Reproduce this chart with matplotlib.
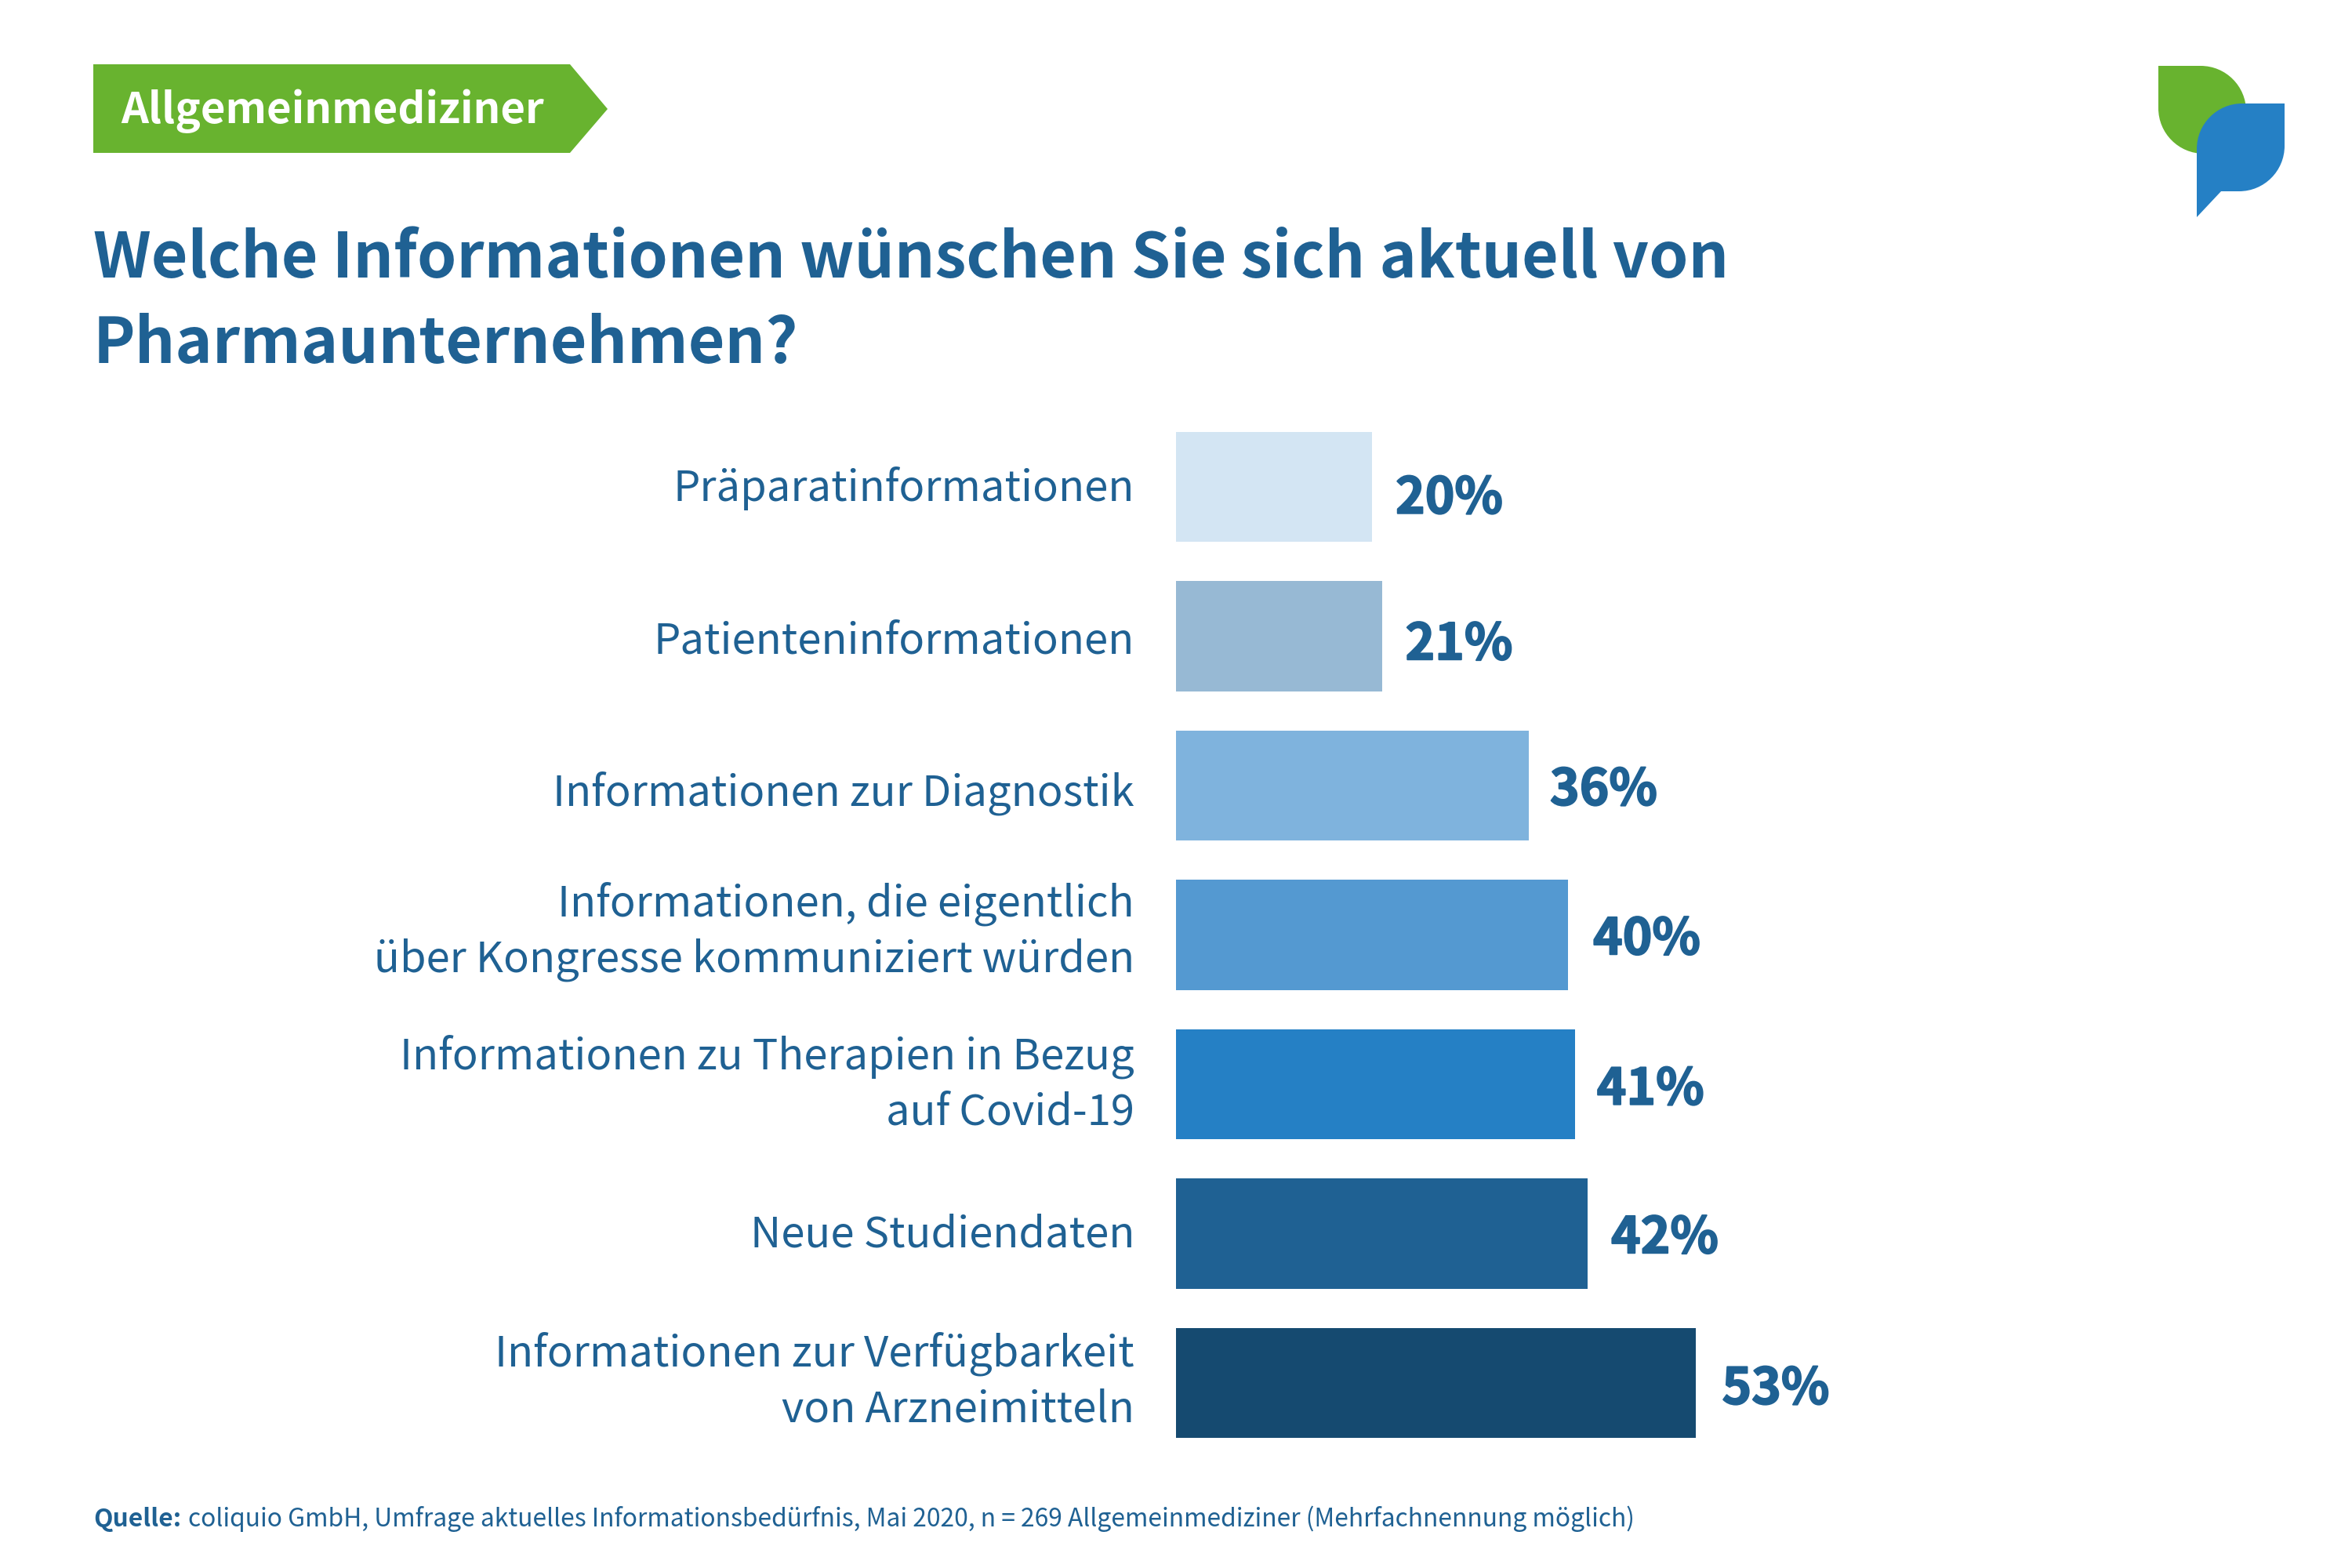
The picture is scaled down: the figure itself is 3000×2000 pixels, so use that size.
import matplotlib
matplotlib.use('Agg')
import matplotlib.pyplot as plt
import matplotlib.patheffects as pe
from matplotlib.patches import PathPatch, Polygon
from matplotlib.path import Path

plt.rcParams['font.family'] = ['Noto Sans CJK SC', 'DejaVu Sans']

# Data
categories = ['Präparatinformationen', 'Patienteninformationen', 'Informationen zur Diagnostik',
              'Informationen, die eigentlich\nüber Kongresse kommuniziert würden',
              'Informationen zu Therapien in Bezug\nauf Covid-19', 'Neue Studiendaten',
              'Informationen zur Verfügbarkeit\nvon Arzneimitteln']
values = [20, 21, 36, 40, 40.7, 42, 53]
bar_colors = ['#d3e5f3', '#97b9d4', '#7fb3dd', '#5499d1', '#2580c5', '#1f6193', '#154a70']

# small hand offsets (pixels) so labels sit like in the original
value_dy = [15, 11, 6, 6, 7, 6, 8]
value_dx = [30, 30, 27, 32, 28, 30, 34]
label_dy = [2, 6, 10, -4, 0, 2, -2]

W, H = 3000, 2000
BLUE = '#1f6193'
GREEN = '#68b32f'
LOGO_BLUE = '#2580c5'

fig = plt.figure(figsize=(15, 10), dpi=200, facecolor='white')

# overlay in pixel coordinates for the header, logo and source line
bg = fig.add_axes([0, 0, 1, 1])
bg.set_xlim(0, W)
bg.set_ylim(H, 0)
bg.axis('off')

# Bars
left, right, top, bottom = 1500, 2500, 551, 1834
ax = fig.add_axes([left / W, 1 - bottom / H, (right - left) / W, (bottom - top) / H])
ax.patch.set_alpha(0)
bar_h = 0.735
y_pos = list(range(len(values)))
ax.barh(y_pos, values, height=bar_h, color=bar_colors, linewidth=0)
ax.set_xlim(0, 80)
ax.set_ylim(len(values) - 1 + bar_h / 2, -bar_h / 2)
ax.axis('off')

for i, (cat, val) in enumerate(zip(categories, values)):
    ax.annotate(f'{round(val)}%', xy=(val, i), xycoords='data', annotation_clip=False,
                xytext=(value_dx[i] * 72 / 200, -value_dy[i] * 72 / 200), textcoords='offset points',
                ha='left', va='center', fontsize=23, fontweight='bold', color=BLUE,
                path_effects=[pe.withStroke(linewidth=0.7, foreground=BLUE)])
    ax.annotate(cat, xy=(0, i), xycoords='data', annotation_clip=False,
                xytext=(-53 * 72 / 200, -label_dy[i] * 72 / 200), textcoords='offset points',
                ha='right', va='center', multialignment='right', fontsize=19.55, color=BLUE,
                linespacing=1.37)

# Badge
bg.add_patch(Polygon([(119, 82), (727, 82), (775, 139), (727, 195), (119, 195)],
                     closed=True, facecolor=GREEN, edgecolor='none'))
bg.text(154, 142, 'Allgemeinmediziner', color='white', fontsize=19.65, fontweight='bold',
        ha='left', va='center')

# Title
bg.text(119, 354, 'Welche Informationen wünschen Sie sich aktuell von', color=BLUE, fontsize=29,
        fontweight='bold', ha='left', va='baseline')
bg.text(119, 463, 'Pharmaunternehmen?', color=BLUE, fontsize=29,
        fontweight='bold', ha='left', va='baseline')

# Logo
k = 0.5523
r = 58
x0, x1, y0, y1 = 2753, 2865, 84, 196
green_verts = [(x0, y0), (x1 - r, y0),
               (x1 - r + r * k, y0), (x1, y0 + r - r * k), (x1, y0 + r),
               (x1, y1), (x0 + r, y1),
               (x0 + r - r * k, y1), (x0, y1 - r + r * k), (x0, y1 - r), (x0, y0)]
green_codes = [Path.MOVETO, Path.LINETO, Path.CURVE4, Path.CURVE4, Path.CURVE4, Path.LINETO, Path.LINETO,
               Path.CURVE4, Path.CURVE4, Path.CURVE4, Path.CLOSEPOLY]
bg.add_patch(PathPatch(Path(green_verts, green_codes), facecolor=GREEN, edgecolor='none'))

x0, x1, y0, y1 = 2802, 2914, 132, 244
blue_verts = [(x1, y0), (x1, y1 - r),
              (x1, y1 - r + r * k), (x1 - r + r * k, y1), (x1 - r, y1),
              (2833, y1), (x0, 277), (x0, y0 + r),
              (x0, y0 + r - r * k), (x0 + r - r * k, y0), (x0 + r, y0), (x1, y0)]
blue_codes = [Path.MOVETO, Path.LINETO, Path.CURVE4, Path.CURVE4, Path.CURVE4, Path.LINETO, Path.LINETO, Path.LINETO,
              Path.CURVE4, Path.CURVE4, Path.CURVE4, Path.CLOSEPOLY]
bg.add_patch(PathPatch(Path(blue_verts, blue_codes), facecolor=LOGO_BLUE, edgecolor='none'))

# Source line
src = bg.text(119, 1947, 'Quelle:', color=BLUE, fontsize=11.45, fontweight='bold', ha='left', va='baseline')
fig.canvas.draw()
src_w = src.get_window_extent().width
bg.text(119 + src_w + 9, 1947,
        'coliquio GmbH, Umfrage aktuelles Informationsbedürfnis, Mai 2020, n = 269 Allgemeinmediziner (Mehrfachnennung möglich)',
        color=BLUE, fontsize=11.45, ha='left', va='baseline')

fig.savefig('out.png', dpi=200, facecolor='white')
